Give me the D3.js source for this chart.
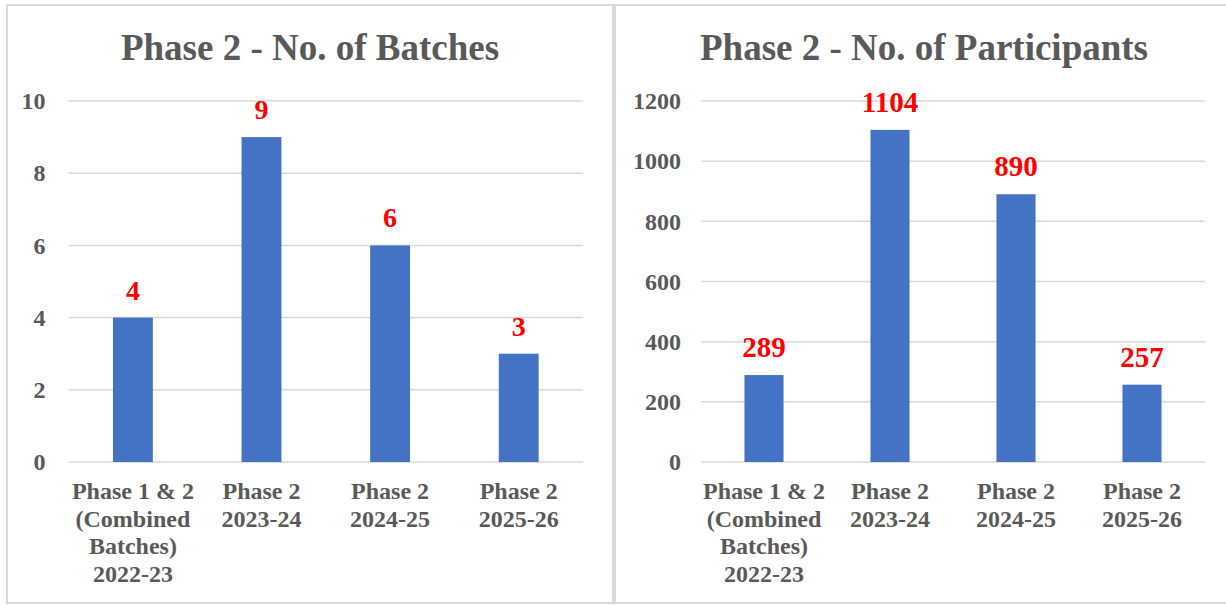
<!DOCTYPE html>
<html lang="en">
<head>
    <meta charset="UTF-8">
    <title>Phase 2 Batches and Participants</title>
    <script src="https://cdn.jsdelivr.net/npm/d3@7"></script>
    <style>
        body { margin: 0; background: #fff; }
        svg { display: block; }
        svg text { font-family: "Liberation Serif", "Times New Roman", serif !important; font-weight: bold; }
    </style>
</head>
<body>
<div id="chart"></div>
<script>
    const categories = [
        ["Phase 1 & 2", "(Combined", "Batches)", "2022-23"],
        ["Phase 2", "2023-24"],
        ["Phase 2", "2024-25"],
        ["Phase 2", "2025-26"]
    ];
    const batches = [4, 9, 6, 3];
    const participants = [289, 1104, 890, 257];
    const batchTicks = [0, 2, 4, 6, 8, 10];
    const participantTicks = [0, 200, 400, 600, 800, 1000, 1200];

    const svg = d3.select("#chart").append("svg")
        .attr("width", 1226)
        .attr("height", 605);

    function drawPanel(opts) {
        const g = svg.append("g").attr("transform", `translate(${opts.left},0)`);

        // panel border
        g.append("rect")
            .attr("x", 1).attr("y", 5)
            .attr("width", opts.width - 2).attr("height", 598)
            .attr("fill", "none")
            .attr("stroke", "#d9d9d9")
            .attr("stroke-width", 2);

        g.append("text")
            .attr("x", opts.width / 2)
            .attr("y", 60)
            .attr("text-anchor", "middle")
            .style("font-size", "37px")
            .style("fill", "#595959")
            .text(opts.title);

        const x = d3.scaleBand()
            .domain(d3.range(opts.values.length))
            .range([opts.plotLeft, opts.plotRight])
            .paddingInner(0.69)
            .paddingOuter(0.345);

        const y = d3.scaleLinear()
            .domain([0, d3.max(opts.ticks)])
            .range([462, 101]);

        // gridlines
        g.append("g")
            .selectAll("line")
            .data(opts.ticks)
            .join("line")
            .attr("x1", opts.plotLeft)
            .attr("x2", opts.plotRight)
            .attr("y1", d => y(d))
            .attr("y2", d => y(d))
            .attr("stroke", "#d9d9d9")
            .attr("stroke-width", 1.5);

        // y axis labels
        const yAxis = g.append("g")
            .attr("transform", `translate(${opts.plotLeft},0)`)
            .call(d3.axisLeft(y).tickValues(opts.ticks).tickFormat(d3.format("d"))
                .tickSize(0).tickPadding(opts.tickPad));
        yAxis.attr("font-family", null);
        yAxis.select(".domain").remove();
        yAxis.selectAll("text")
            .style("font-size", "24px")
            .style("fill", "#595959");

        g.append("g")
            .selectAll("rect")
            .data(opts.values)
            .join("rect")
            .attr("x", (d, i) => x(i))
            .attr("y", d => y(d))
            .attr("width", x.bandwidth())
            .attr("height", d => y(0) - y(d))
            .attr("fill", "#4472c4");

        g.append("g")
            .selectAll("text")
            .data(opts.values)
            .join("text")
            .attr("x", (d, i) => x(i) + x.bandwidth() / 2)
            .attr("y", d => y(d) - 18)
            .attr("text-anchor", "middle")
            .style("font-size", opts.labelSize)
            .style("fill", "#ff0000")
            .text(d => d);

        // category labels, one tspan per line
        const cat = g.append("g")
            .selectAll("text")
            .data(categories)
            .join("text")
            .attr("text-anchor", "middle")
            .style("font-size", "24px")
            .style("fill", "#595959");
        cat.each(function (lines, i) {
            d3.select(this).selectAll("tspan")
                .data(lines)
                .join("tspan")
                .attr("x", x(i) + x.bandwidth() / 2)
                .attr("y", (l, j) => 499 + j * 27.6)
                .text(l => l);
        });
    }

    drawPanel({
        left: 6, width: 608,
        plotLeft: 62.6, plotRight: 577,
        title: "Phase 2 - No. of Batches",
        values: batches, ticks: batchTicks,
        tickPad: 23, labelSize: "28px"
    });

    drawPanel({
        left: 614, width: 620,
        plotLeft: 87, plotRight: 591,
        title: "Phase 2 - No. of Participants",
        values: participants, ticks: participantTicks,
        tickPad: 20, labelSize: "29px"
    });
</script>
</body>
</html>
